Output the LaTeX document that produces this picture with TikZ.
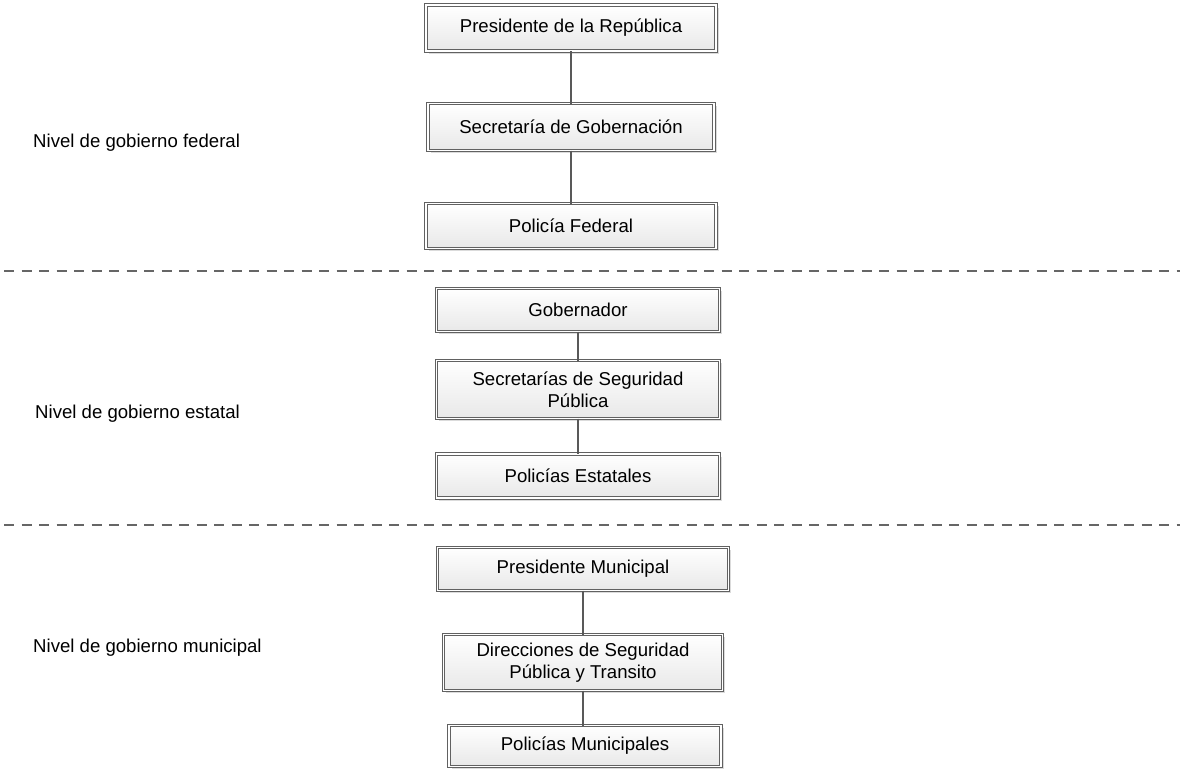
\documentclass[tikz,border=0pt]{standalone}
\usepackage{fontspec}
\setmainfont{Liberation Sans}
\usetikzlibrary{shadows}
\begin{document}
\begin{tikzpicture}[x=1pt,y=-1pt,
  box/.style={draw=black!62, double=white, double distance=1.5pt, line width=0.9pt,
    top color=white, bottom color=black!9, align=center,
    font=\fontsize{18.6}{22}\selectfont, inner sep=0pt, outer sep=0pt,
    drop shadow={shadow xshift=2.5pt, shadow yshift=-2.5pt, fill=black!20, opacity=0.7}},
  conn/.style={draw=black!65, line width=1.2pt},
  sep/.style={draw=black!60, line width=1.4pt, dash pattern=on 10pt off 7.5pt},
  lvl/.style={anchor=west, font=\fontsize{18.6}{22}\selectfont, inner sep=0pt}
]
\useasboundingbox (0,0) rectangle (1180,774);

% federal
\node[box, minimum width=290pt, minimum height=46pt] (f1) at (571,28) {Presidente de la República};
\node[box, minimum width=286pt, minimum height=47pt] (f2) at (571,127) {Secretaría de Gobernación};
\node[box, minimum width=290pt, minimum height=45pt] (f3) at (571,226) {Policía Federal};
\draw[conn] (f1.south) -- (f2.north);
\draw[conn] (f2.south) -- (f3.north);

% estatal
\node[box, minimum width=283pt, minimum height=43pt] (e1) at (578,310) {Gobernador};
\node[box, minimum width=283pt, minimum height=58pt] (e2) at (578,389.5) {Secretarías de Seguridad\\Pública};
\node[box, minimum width=283pt, minimum height=44pt] (e3) at (578,476) {Policías Estatales};
\draw[conn] (e1.south) -- (e2.north);
\draw[conn] (e2.south) -- (e3.north);

% municipal
\node[box, minimum width=291pt, minimum height=43pt] (m1) at (583,569) {Presidente Municipal};
\node[box, minimum width=279pt, minimum height=56pt] (m2) at (583,662.5) {Direcciones de Seguridad\\Pública y Transito};
\node[box, minimum width=272pt, minimum height=41pt] (m3) at (585,746) {Policías Municipales};
\draw[conn] (m1.south) -- (m2.north);
\draw[conn] (m2.south) -- (m2.south |- m3.north);

% separators
\coordinate (s1a) at (4,271);
\coordinate (s1b) at (1180,271);
\coordinate (s2a) at (4,525);
\coordinate (s2b) at (1180,525);
\draw[sep] (s1a) -- (s1b);
\draw[sep] (s2a) -- (s2b);

% level labels
\node[lvl] (l1) at (33,143) {Nivel de gobierno federal};
\node[lvl] (l2) at (35,414) {Nivel de gobierno estatal};
\node[lvl] (l3) at (33,648) {Nivel de gobierno municipal};
\end{tikzpicture}
\end{document}
